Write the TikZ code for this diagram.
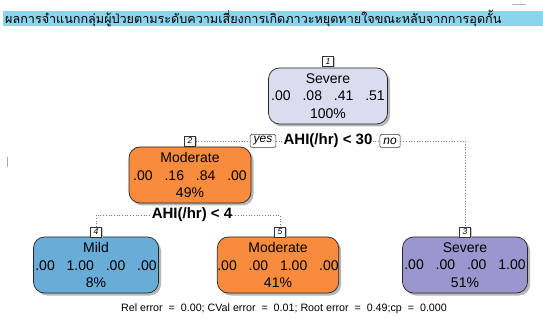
\documentclass[tikz,border=0pt]{standalone}
\usepackage{fontspec}
\setmainfont{Liberation Sans}
\newfontfamily\thaifont[Script=Thai]{Loma}
\usetikzlibrary{shadows}
\definecolor{titlebar}{RGB}{138,212,236}
\definecolor{nlav}{RGB}{220,220,240}
\definecolor{norange}{RGB}{249,139,60}
\definecolor{nblue}{RGB}{104,172,216}
\definecolor{npurple}{RGB}{156,150,206}
\definecolor{edgegray}{RGB}{120,120,120}
\tikzset{
  tnode/.style={draw=black!85, line width=0.7pt, rounded corners=11pt,
    minimum height=56pt, align=center, inner sep=0pt,
    font=\fontsize{14}{17.5}\selectfont,
    drop shadow={shadow xshift=2.5pt, shadow yshift=-2.5pt, fill=gray!70, opacity=0.8}},
  numbox/.style={draw=black!80, fill=white, line width=0.5pt, minimum width=11pt,
    minimum height=10pt, inner sep=0pt, font=\fontsize{8.5}{9}\selectfont\itshape,
    drop shadow={shadow xshift=1.5pt, shadow yshift=-1.5pt, fill=gray!60, opacity=0.8}},
  yesno/.style={draw=black!80, fill=white, line width=0.5pt, rounded corners=1.5pt,
    minimum height=13pt, inner xsep=3.5pt, inner ysep=0pt, font=\fontsize{12}{13}\selectfont\itshape},
  splitlab/.style={font=\fontsize{15}{16}\selectfont\bfseries, inner sep=0pt},
  dotline/.style={edgegray, dotted, line width=0.7pt}
}
\newcommand{\nums}[4]{#1\hspace{0.85em}#2\hspace{0.85em}#3\hspace{0.85em}#4}
\begin{document}
\begin{tikzpicture}[x=1pt,y=-1pt]
\useasboundingbox[fill=white] (0,0) rectangle (543,320);
% title bar
\fill[titlebar] (3,11) rectangle (543,26);
\node[anchor=west, inner sep=0pt, font=\thaifont\fontsize{12.6}{14}\selectfont] (title) at (5,18.5)
  {ผลการจำแนกกลุ่มผู้ป่วยตามระดับความเสี่ยงการเกิดภาวะหยุดหายใจขณะหลับจากการอุดกั้น};
\draw[gray!60, line width=0.6pt] (512,4) -- (526,4);
\draw[gray!70, line width=0.8pt] (7,157) -- (7,167);
% nodes
\node[tnode, fill=nlav, minimum width=119pt] (n1) at (328,96) {Severe\\\nums{.00}{.08}{.41}{.51}\\100\%};
\node[tnode, fill=norange, minimum width=122pt] (n2) at (190,175) {Moderate\\\nums{.00}{.16}{.84}{.00}\\49\%};
\node[tnode, fill=nblue, minimum width=125pt] (n4) at (96,265) {Mild\\\nums{.00}{1.00}{.00}{.00}\\8\%};
\node[tnode, fill=norange, minimum width=118pt] (n5) at (278,265) {Moderate\\\nums{.00}{.00}{1.00}{.00}\\41\%};
\node[tnode, fill=npurple, minimum width=125pt] (n3) at (465,265) {Severe\\\nums{.00}{.00}{.00}{1.00}\\51\%};
% number labels
\node[numbox] (l1) at (328,61.5) {1};
\node[numbox] (l2) at (190,141) {2};
\node[numbox] (l4) at (96,232) {4};
\node[numbox] (l5) at (280,232) {5};
\node[numbox] (l3) at (465,232) {3};
% split 1
\node[splitlab] (s1) at (328,141) {AHI(/hr) < 30};
\node[yesno] (yes) at (263,141) {yes};
\node[yesno] (no) at (390,141) {no};
\coordinate (c3) at (465,141);
\draw[dotline] (l2.east) -- (yes.west);
\draw[dotline] (yes.east) -- (s1.west);
\draw[dotline] (s1.east) -- (no.west);
\draw[dotline] (no.east) -- (c3) -- (l3.north);
% split 2
\node[splitlab] (s2) at (192,215) {AHI(/hr) < 4};
\coordinate (c4) at (96,215);
\coordinate (c5) at (280,215);
\draw[dotline] (l4.north) -- (c4) -- (s2.west);
\draw[dotline] (s2.east) -- (c5) -- (l5.north);
% footer
\node[font=\fontsize{10.7}{12}\selectfont, inner sep=0pt] (foot) at (284,309)
  {Rel error\ \ =\ \ 0.00; CVal error\ \ =\ \ 0.01; Root error\ \ =\ \ 0.49;cp\ \ =\ \ 0.000};
\end{tikzpicture}
\end{document}
